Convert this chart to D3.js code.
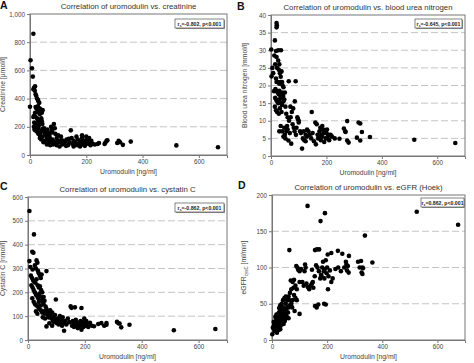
<!DOCTYPE html>
<html>
<head>
<meta charset="utf-8">
<script src="https://cdn.jsdelivr.net/npm/d3@7"></script>
<style>
  body { margin: 0; background: #fff; }
  svg { display: block; font-family: 'Liberation Sans', Arial, sans-serif; }
</style>
</head>
<body>
<div id="chart"></div>
<script>
// uromodulin [ng/ml] vs. creatinine [umol/l]
let creatinine = [
  [12, 860], [2, 672], [7, 615], [10, 556], [0, 342], [12, 466], [15, 478], [18, 488], [17, 455], [20, 430],
  [22, 420], [25, 400], [28, 392], [30, 380], [33, 370], [35, 330], [38, 320], [40, 310], [42, 300], [45, 318],
  [20, 340], [22, 335], [25, 325], [28, 345], [30, 320], [32, 300], [35, 290], [18, 300], [15, 280], [12, 270],
  [20, 270], [25, 260], [28, 250], [30, 240], [33, 230], [36, 250], [40, 260], [42, 240], [44, 220], [15, 230],
  [18, 220], [20, 210], [22, 200], [25, 190], [28, 185], [30, 200], [32, 215], [14, 200], [16, 180], [19, 175],
  [24, 170], [27, 160], [30, 150], [35, 140], [38, 160], [42, 175], [45, 185], [48, 170], [50, 190], [52, 160],
  [55, 145], [58, 170], [60, 130], [62, 180], [65, 150], [68, 140], [70, 125], [72, 160], [75, 200], [78, 180],
  [80, 160], [85, 220], [88, 190], [90, 150], [35, 120], [40, 110], [45, 130], [50, 100], [55, 95], [60, 110],
  [65, 90], [70, 100], [75, 85], [80, 110], [85, 95], [90, 80], [95, 120], [100, 100], [105, 90], [110, 130],
  [115, 75], [120, 85], [125, 95], [130, 110], [135, 70], [140, 90], [145, 175], [148, 120], [150, 80], [155, 100],
  [160, 90], [165, 130], [168, 70], [170, 110], [175, 85], [180, 95], [185, 120], [188, 75], [190, 100], [195, 90],
  [200, 130], [202, 110], [205, 80], [208, 95], [210, 120], [215, 70], [218, 100], [222, 80], [230, 75], [240, 78],
  [245, 85], [265, 78], [268, 88], [272, 100], [275, 105], [310, 85], [315, 100], [320, 90], [330, 72], [358, 95],
  [520, 68], [668, 55], [105, 60], [118, 100], [128, 65], [138, 115], [155, 60], [162, 75], [178, 60], [185, 140],
  [195, 65], [100, 140], [112, 105], [95, 70], [82, 75], [72, 70], [60, 75], [48, 90]
]

// uromodulin [ng/ml] vs. blood urea nitrogen [mmol/l]
let bun = [
  [20, 37.7], [21, 37.1], [20, 36.5], [14, 32.8], [1, 30.2], [18, 29.8], [26, 30], [36, 30], [12, 28.5], [20, 28.1],
  [26, 27.1], [30, 26], [2, 22.6], [8, 23.5], [11, 18.4], [5, 25], [15, 26], [22, 25], [28, 24.5], [32, 23.5],
  [35, 22.5], [38, 24], [40, 21], [18, 22], [20, 21], [25, 21], [30, 20.5], [35, 21], [42, 20], [45, 19.5],
  [16, 19], [20, 18.5], [24, 18], [28, 17.5], [30, 18.5], [34, 17], [38, 16.5], [40, 18], [44, 17], [48, 16],
  [50, 18], [15, 16.5], [18, 16], [22, 15.5], [26, 15], [30, 16], [36, 15], [40, 14.5], [45, 15.5], [52, 14],
  [14, 14], [18, 13], [22, 12.5], [28, 12], [32, 13.5], [38, 12.5], [55, 12], [60, 11], [64, 21.2], [89, 21.2],
  [86, 15.5], [80, 13.5], [75, 12.5], [70, 14], [71, 11], [65, 10], [58, 8.5], [55, 7], [50, 6], [45, 5.5],
  [40, 7], [35, 8.5], [30, 7], [48, 8], [52, 5], [60, 7.5], [63, 4.4], [68, 6.5], [73, 3.5], [78, 9],
  [82, 8], [85, 7], [90, 6], [95, 11], [97, 10.5], [100, 10], [105, 7], [108, 6.5], [112, 2.1], [115, 5],
  [118, 7], [120, 4.5], [125, 6], [130, 5.5], [135, 7], [140, 6], [145, 5], [147, 12.5], [150, 6.5], [155, 4.2],
  [160, 9.5], [162, 3.3], [165, 9], [168, 6], [170, 5], [175, 7], [180, 4.5], [182, 6], [185, 5.5], [188, 7.5],
  [190, 6.5], [192, 4], [195, 7], [198, 5], [200, 6.5], [202, 7.5], [205, 5.5], [208, 6], [210, 4.5], [215, 6],
  [220, 5.5], [230, 5], [247, 4.9], [263, 7.8], [268, 7], [269, 6.8], [275, 9.9], [275, 4.4], [280, 3.8], [310, 5.2],
  [316, 9.5], [322, 9.2], [322, 4.4], [328, 6.8], [357, 5.4], [517, 4.6], [665, 3.7], [100, 9.5], [92, 8], [130, 7.5],
  [125, 4.2], [175, 5.5], [178, 8], [185, 8.5]
]

// uromodulin [ng/ml] vs. cystatin C [nmol/l]
let cystatin = [
  [5, 541], [21, 443], [5, 331], [15, 370], [19, 366], [8, 306], [16, 296], [24, 313], [30, 334], [33, 324],
  [28, 300], [35, 290], [38, 280], [42, 270], [45, 260], [48, 275], [65, 289], [10, 270], [14, 260], [18, 250],
  [22, 245], [26, 240], [30, 255], [34, 230], [38, 220], [42, 225], [46, 210], [50, 200], [12, 230], [16, 220],
  [20, 210], [24, 200], [28, 190], [32, 185], [36, 175], [40, 195], [44, 180], [48, 170], [52, 160], [55, 150],
  [58, 165], [15, 175], [20, 160], [25, 150], [30, 145], [35, 140], [40, 130], [45, 125], [50, 115], [55, 120],
  [60, 110], [62, 140], [65, 130], [68, 120], [70, 105], [72, 95], [75, 110], [78, 125], [80, 100], [82, 90],
  [85, 115], [88, 80], [90, 95], [92, 75], [95, 105], [98, 170], [100, 85], [102, 70], [105, 90], [108, 65],
  [110, 80], [112, 100], [115, 75], [118, 85], [120, 60], [122, 95], [125, 70], [127, 39], [130, 80], [135, 65],
  [140, 90], [145, 75], [150, 141], [153, 135], [155, 60], [158, 80], [160, 70], [162, 55], [165, 137], [168, 85],
  [170, 65], [172, 75], [175, 50], [178, 70], [180, 60], [182, 57], [185, 80], [188, 134], [188, 43], [190, 65],
  [192, 75], [195, 55], [198, 90], [200, 70], [202, 60], [205, 80], [208, 65], [212, 55], [218, 72], [225, 60],
  [232, 58], [247, 67], [258, 71], [268, 60], [276, 71], [276, 64], [313, 76], [318, 70], [322, 69], [328, 53],
  [357, 64], [513, 41], [659, 46], [65, 57], [38, 160], [45, 145], [55, 180], [75, 70], [85, 60], [60, 90],
  [33, 110], [28, 120], [52, 95]
]

// uromodulin [ng/ml] vs. eGFR cysC (Hoek) [ml/min]
let egfr = [
  [129, 185], [192, 175], [176, 164], [525, 177], [675, 159], [337, 144], [63, 124], [156, 124], [163, 125], [171, 125],
  [239, 123], [255, 119], [279, 116], [323, 109], [328, 100], [330, 99], [364, 107], [325, 93], [328, 91], [203, 70],
  [189, 50], [195, 49], [156, 47], [162, 45], [168, 49], [73, 45], [82, 40], [100, 36], [1, 8], [88, 102],
  [92, 100], [95, 97], [100, 95], [105, 98], [120, 104], [122, 100], [110, 80], [115, 75], [118, 95], [125, 78],
  [130, 73], [135, 70], [140, 75], [145, 78], [148, 80], [150, 72], [170, 95], [175, 85], [178, 90], [180, 88],
  [182, 100], [185, 108], [188, 95], [190, 85], [192, 98], [195, 110], [198, 92], [200, 100], [205, 88], [210, 96],
  [215, 80], [220, 85], [230, 98], [240, 100], [250, 95], [262, 100], [268, 108], [270, 104], [272, 96], [275, 102],
  [278, 93], [312, 108], [318, 100], [215, 120], [202, 118], [160, 103], [165, 100], [155, 88], [145, 97], [100, 80],
  [80, 83], [75, 80], [85, 75], [90, 70], [70, 70], [65, 65], [60, 60], [55, 55], [80, 62], [85, 58],
  [90, 55], [75, 55], [70, 50], [65, 48], [60, 45], [50, 60], [45, 58], [40, 55], [35, 50], [78, 72],
  [68, 82], [5, 18], [8, 15], [10, 20], [12, 25], [14, 22], [15, 18], [18, 28], [20, 24], [22, 30],
  [24, 27], [25, 20], [28, 33], [30, 28], [32, 35], [34, 30], [35, 25], [36, 40], [38, 32], [40, 28],
  [42, 36], [44, 30], [45, 42], [48, 38], [50, 35], [52, 40], [55, 45], [58, 38], [20, 35], [25, 38],
  [30, 42], [15, 30], [10, 12], [6, 25], [12, 32], [18, 16], [22, 18], [28, 22], [32, 20], [38, 24],
  [42, 22], [46, 26], [26, 44], [30, 48], [40, 45], [50, 50], [8, 22], [16, 35], [3, 17], [35, 33],
  [48, 29], [54, 32], [60, 30], [62, 55], [25, 14], [30, 15], [18, 10]
]

let xTicks = [0, 200, 400, 600]
let creatinineTicks = [0, 200, 400, 600, 800, 1000]
let bunTicks = [0, 5, 10, 15, 20, 25, 30, 35, 40]
let cystatinTicks = [0, 100, 200, 300, 400, 500, 600]
let egfrTicks = [0, 50, 100, 150, 200]

let panels = [
  { letter: 'A', title: 'Correlation of uromodulin vs. creatinine', ylabel: 'Creatinine [µmol/l]', data: creatinine, yTicks: creatinineTicks, stat: '=-0.802, p<0.001',
    box: { l: 30, r: 227, t: 14, b: 155 }, lx: 0, ly: 9, tx: 5, note: { x: 175, y: 19, w: 49 } },
  { letter: 'B', title: 'Correlation of uromodulin vs. blood urea nitrogen', ylabel: 'Blood urea nitrogen [mmol/l]', data: bun, yTicks: bunTicks, stat: '=-0.645, p<0.001',
    box: { l: 271, r: 465, t: 15, b: 156 }, lx: 237, ly: 10, tx: 247, note: { x: 415, y: 19, w: 47 } },
  { letter: 'C', title: 'Correlation of uromodulin vs. cystatin C', ylabel: 'Cystatin C [nmol/l]', data: cystatin, yTicks: cystatinTicks, stat: '=-0.862, p<0.001',
    box: { l: 28, r: 227, t: 197, b: 340 }, lx: 0, ly: 190, tx: 5, note: { x: 175, y: 203, w: 49 } },
  { letter: 'D', title: 'Correlation of uromodulin vs. eGFR (Hoek)', ylabel: 'eGFR', data: egfr, yTicks: egfrTicks, stat: '=0.862, p<0.001',
    box: { l: 272, r: 465, t: 195, b: 340 }, lx: 238, ly: 189, tx: 246, note: { x: 421, y: 198, w: 43 } }
]

function main () {
  let svg = d3.select('#chart').append('svg').attr('width', 474).attr('height', 363)
  panels.forEach((p) => drawPanel(svg, p))
}

function drawPanel (svg, p) {
  let b = p.box
  let x = d3.scaleLinear().domain([0, 700]).range([b.l, b.r])
  let yMax = p.yTicks[p.yTicks.length - 1]
  let y = d3.scaleLinear().domain([0, yMax]).range([b.b, b.t])
  let g = svg.append('g')

  // dashed grid
  g.selectAll('line.grid').data(p.yTicks.filter((t) => t > 0 && t < yMax)).enter().append('line')
    .attr('x1', b.l).attr('x2', b.r).attr('y1', (d) => y(d)).attr('y2', (d) => y(d))
    .attr('stroke', '#c4c4c4').attr('stroke-width', 1).attr('stroke-dasharray', '7,3')

  g.append('rect').attr('x', b.l).attr('y', b.t).attr('width', b.r - b.l).attr('height', b.b - b.t)
    .attr('fill', 'none').attr('stroke', '#777').attr('stroke-width', 1)

  let xa = g.append('g').attr('transform', `translate(0,${b.b})`)
    .call(d3.axisBottom(x).tickValues(xTicks).tickSize(3).tickPadding(2))
  let ya = g.append('g').attr('transform', `translate(${b.l},0)`)
    .call(d3.axisLeft(y).tickValues(p.yTicks).tickSize(3).tickPadding(2))
  ;[xa, ya].forEach((a) => {
    a.select('.domain').attr('stroke', '#777')
    a.selectAll('.tick line').attr('stroke', '#777')
    a.selectAll('text').attr('font-size', 6.3).attr('fill', '#444')
  })

  g.selectAll('circle').data(p.data).enter().append('circle')
    .attr('cx', (d) => x(d[0])).attr('cy', (d) => y(d[1])).attr('r', 2.3).attr('fill', '#000')

  g.append('text').attr('x', (b.l + b.r) / 2).attr('y', b.t - 5.5).attr('text-anchor', 'middle')
    .attr('font-size', 7.8).attr('fill', '#333').text(p.title)

  g.append('text').attr('x', p.lx).attr('y', p.ly).attr('font-size', 10.5).attr('font-weight', 'bold')
    .attr('fill', '#111').text(p.letter)

  g.append('text').attr('x', (b.l + b.r) / 2).attr('y', b.b + 19).attr('text-anchor', 'middle')
    .attr('font-size', 6.8).attr('fill', '#444').text('Uromodulin [ng/ml]')

  let yl = g.append('text').attr('transform', `translate(${p.tx},${(b.t + b.b) / 2}) rotate(-90)`)
    .attr('text-anchor', 'middle').attr('font-size', 6.8).attr('fill', '#444')
  if (p.letter === 'D') {
    yl.append('tspan').text('eGFR')
    yl.append('tspan').attr('font-size', 4.5).attr('dy', 1.5).text('cysC')
    yl.append('tspan').attr('dy', -1.5).text(' [ml/min]')
  } else {
    yl.text(p.ylabel)
  }

  // stat box with shadow
  let n = p.note
  g.append('rect').attr('x', n.x + 1).attr('y', n.y + 1).attr('width', n.w).attr('height', 9).attr('fill', '#999')
  g.append('rect').attr('x', n.x).attr('y', n.y).attr('width', n.w).attr('height', 9)
    .attr('fill', '#fff').attr('stroke', '#333').attr('stroke-width', 0.6)
  let st = g.append('text').attr('x', n.x + n.w / 2).attr('y', n.y + 6.5).attr('text-anchor', 'middle')
    .attr('font-size', 5.2).attr('font-weight', 'bold').attr('fill', '#222')
  st.append('tspan').text('r')
  st.append('tspan').attr('font-size', 3.5).attr('dy', 1).text('s')
  st.append('tspan').attr('dy', -1).text(p.stat)
}

main()
</script>
</body>
</html>
